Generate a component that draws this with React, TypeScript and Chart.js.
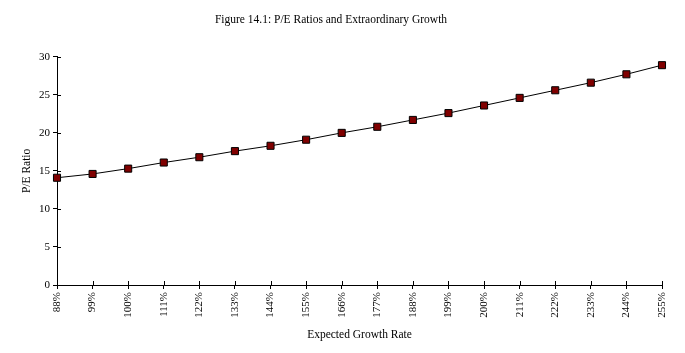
import React, { useEffect, useRef } from "react";
import { Chart, registerables } from "chart.js";

Chart.register(...registerables);

const categories = ["88%", "99%", "100%", "111%", "122%", "133%", "144%", "155%", "166%", "177%", "188%", "199%", "200%", "211%", "222%", "233%", "244%", "255%"];
const peRatios = [14.1, 14.6, 15.3, 16.1, 16.8, 17.6, 18.3, 19.1, 20.0, 20.8, 21.7, 22.6, 23.6, 24.6, 25.6, 26.6, 27.7, 28.9];
const yTicks = [0, 5, 10, 15, 20, 25, 30];

const FONT = "'Liberation Serif', 'Times New Roman', serif";

const crossTicks = {
  id: "crossTicks",
  afterDraw(chart: any) {
    const { ctx, chartArea, scales } = chart;
    ctx.save();
    ctx.strokeStyle = "#000";
    ctx.lineWidth = 1;
    ctx.beginPath();
    const xs = scales.x;
    for (let i = 0; i < categories.length; i++) {
      const px = Math.round(xs.getPixelForValue(i)) + 0.5;
      ctx.moveTo(px, chartArea.bottom - 4);
      ctx.lineTo(px, chartArea.bottom);
    }
    const ys = scales.y;
    for (const v of yTicks) {
      const py = Math.round(ys.getPixelForValue(v)) + 0.5;
      ctx.moveTo(chartArea.left, py);
      ctx.lineTo(chartArea.left + 4, py);
    }
    ctx.stroke();
    ctx.restore();
  },
};

export default function App() {
  const ref = useRef<HTMLCanvasElement>(null);
  useEffect(() => {
    document.body.style.margin = "0";
    const chart = new Chart(ref.current!, {
      type: "line",
      data: {
        labels: categories,
        datasets: [
          {
            data: peRatios,
            borderColor: "#000",
            borderWidth: 1,
            backgroundColor: "#800000",
            pointStyle: "rect",
            pointRadius: 5,
            pointBorderColor: "#000",
            pointBorderWidth: 1,
            pointBackgroundColor: "#800000",
            tension: 0,
          },
        ],
      },
      options: {
        responsive: false,
        animation: false,
        layout: { padding: { left: 0, right: 23, top: 0, bottom: 11 } },
        plugins: {
          legend: { display: false },
          tooltip: { enabled: false },
          title: {
            display: true,
            text: "Figure 14.1: P/E Ratios and Extraordinary Growth",
            color: "#000",
            font: { family: FONT, size: 11.5, weight: "normal" },
            padding: { top: 13, bottom: 30 },
          },
        },
        scales: {
          x: {
            type: "category",
            offset: false,
            grid: { display: true, drawOnChartArea: false, drawTicks: true, tickLength: 4, color: "#000" },
            border: { display: true, color: "#000", width: 1 },
            ticks: {
              color: "#000",
              font: { family: FONT, size: 11 },
              minRotation: 90,
              maxRotation: 90,
              autoSkip: false,
              padding: 3,
            },
            title: {
              display: true,
              text: "Expected Growth Rate",
              color: "#000",
              font: { family: FONT, size: 11.5 },
              padding: { top: 0, bottom: 0 },
            },
            afterFit(scale: any) {
              scale.height = 57;
            },
          },
          y: {
            min: 0,
            max: 30,
            grid: { display: true, drawOnChartArea: false, drawTicks: true, tickLength: 4, color: "#000" },
            border: { display: true, color: "#000", width: 1 },
            ticks: {
              color: "#000",
              font: { family: FONT, size: 11 },
              stepSize: 5,
              padding: 3,
            },
            title: {
              display: true,
              text: "P/E Ratio",
              color: "#000",
              font: { family: FONT, size: 11.5 },
              padding: { top: 20, bottom: 0 },
            },
            afterFit(scale: any) {
              scale.width = 57;
            },
          },
        },
      },
      plugins: [crossTicks],
    });
    return () => chart.destroy();
  }, []);
  return <canvas ref={ref} width={685} height={353} style={{ display: "block" }} />;
}
